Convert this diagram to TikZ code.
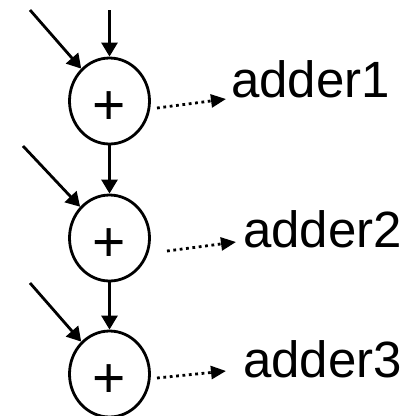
\documentclass[tikz,border=0pt]{standalone}
\usepackage{fontspec}
\setmainfont{Liberation Sans}
\usetikzlibrary{arrows.meta,shapes.geometric}
\begin{document}
\begin{tikzpicture}[x=1pt,y=-1pt,
  adder/.style={draw,ellipse,line width=2.8pt,minimum width=80pt,minimum height=86pt,inner sep=0pt,
    font=\fontsize{57}{57}\selectfont,text height=46pt,text depth=0pt},
  lbl/.style={anchor=base west,inner sep=0pt,font=\fontsize{51}{51}\selectfont},
  solidarrow/.style={line width=2.8pt,-{Triangle[length=14pt,width=16pt]}},
  dotarrow/.style={line width=2.8pt,dash pattern=on 2.8pt off 3.6pt,-{Triangle[length=15pt,width=13pt]}}]
\useasboundingbox (0,0) rectangle (413,416);
\clip (0,0) rectangle (413,416);
\node[adder] (c1) at (109.5,101) {+};
\node[adder] (c2) at (109.5,238) {+};
\node[adder] (c3) at (109.5,374) {+};
\node[lbl] (l1) at (231,97) {adder1};
\node[lbl] (l2) at (243,247) {adder2};
\node[lbl] (l3) at (243,377) {adder3};
\coordinate (top) at (109.5,10);
\coordinate (d1) at (30,10);
\coordinate (d2) at (23,146);
\coordinate (d3) at (30,283);
\coordinate (o1) at (157,108);
\coordinate (t1) at (226,99);
\coordinate (o2) at (167,251);
\coordinate (t2) at (236,242);
\coordinate (o3) at (157,378);
\coordinate (t3) at (226,371);
\draw[solidarrow] (top) -- (c1);
\draw[solidarrow] (c1) -- (c2);
\draw[solidarrow] (c2) -- (c3);
\draw[solidarrow] (d1) -- (c1);
\draw[solidarrow] (d2) -- (c2);
\draw[solidarrow] (d3) -- (c3);
\draw[dotarrow] (o1) -- (t1);
\draw[dotarrow] (o2) -- (t2);
\draw[dotarrow] (o3) -- (t3);
\end{tikzpicture}
\end{document}
